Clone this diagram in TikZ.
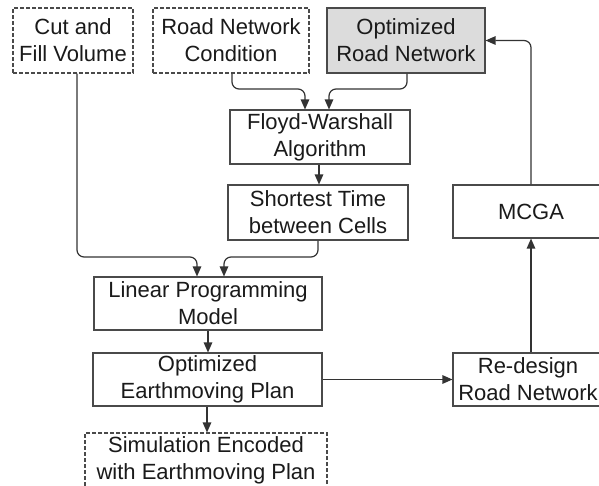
\documentclass[tikz,border=0pt]{standalone}
\usepackage{fontspec}
\setmainfont{Liberation Sans}
\usetikzlibrary{arrows.meta}
\definecolor{linec}{HTML}{333333}
\definecolor{boxc}{HTML}{4A4A4A}
\definecolor{txtc}{HTML}{1A1A1A}
\definecolor{grayfill}{HTML}{DCDCDC}
\begin{document}
\begin{tikzpicture}[x=1pt,y=-1pt,
  box/.style={draw=boxc, line width=1.1pt, align=center, inner sep=0pt,
    text=txtc, font=\fontsize{22}{27}\selectfont},
  dbox/.style={box, dash pattern=on 4pt off 2pt},
  conn/.style={draw=linec, line width=1.2pt, rounded corners=7pt,
    -{Triangle[length=10pt,width=8.5pt]}}]
\useasboundingbox (0,0) rectangle (599,485);
\fill[white] (0,0) rectangle (599,485);
\node[dbox, minimum width=120pt, minimum height=65pt] (cut) at (73,40.5) {Cut and\\Fill Volume};
\node[dbox, minimum width=156pt, minimum height=65pt] (rnc) at (231,40.5) {Road Network\\Condition};
\node[box, fill=grayfill, minimum width=158pt, minimum height=65pt] (orn) at (406,40.5) {Optimized\\Road Network};
\node[box, minimum width=180pt, minimum height=54pt] (fw) at (320,137) {Floyd-Warshall\\Algorithm};
\node[box, minimum width=180pt, minimum height=55pt] (st) at (318,212.5) {Shortest Time\\between Cells};
\node[box, minimum width=228pt, minimum height=53pt] (lp) at (208,303.5) {Linear Programming\\Model};
\node[box, minimum width=229pt, minimum height=53pt] (oe) at (207.5,379.5) {Optimized\\Earthmoving Plan};
\node[dbox, minimum width=242pt, minimum height=55pt] (sim) at (206,460.5) {Simulation Encoded\\with Earthmoving Plan};
\node[box, minimum width=150pt, minimum height=53pt] (rd) at (528,379.5) {Re-design\\Road Network};
\node[box, minimum width=156pt, minimum height=53pt] (mcga) at (531,211.5) {MCGA};
% connectors
\draw[conn] (cut.south -| 77,0) |- (197,257) -- (lp.north -| 197,0);
\draw[conn] (st.south -| 318,0) |- (224,257) -- (lp.north -| 224,0);
\draw[conn] (rnc.south -| 232,0) |- (305,89) -- (fw.north -| 305,0);
\draw[conn] (orn.south -| 407,0) |- (329,89) -- (fw.north -| 329,0);
\draw[conn] (fw.south -| 319,0) -- (st.north -| 319,0);
\draw[conn] (lp.south -| 208,0) -- (oe.north -| 208,0);
\draw[conn] (oe.south -| 207,0) -- (sim.north -| 207,0);
\draw[conn] (oe.east) -- (rd.west);
\draw[conn] (rd.north -| mcga.south) -- (mcga.south);
\draw[conn] (mcga.north) |- (orn.east);
\end{tikzpicture}
\end{document}
